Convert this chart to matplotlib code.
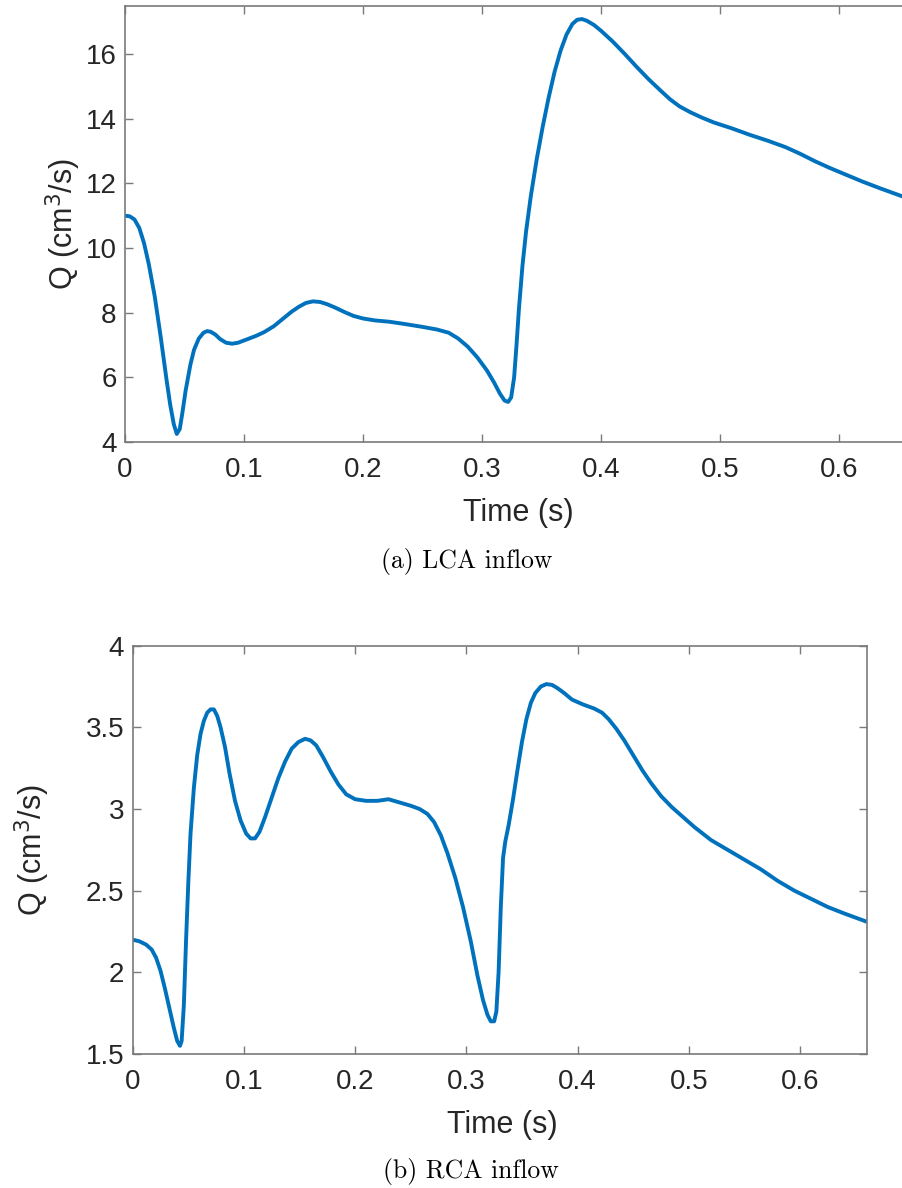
import matplotlib
matplotlib.use('Agg')
import matplotlib.pyplot as plt

# === LCA inflow ===
lca_t = [0.000, 0.004, 0.008, 0.012, 0.016, 0.020, 0.025, 0.030, 0.035, 0.038,
         0.041, 0.0435, 0.046, 0.048, 0.051, 0.055, 0.058, 0.062, 0.066, 0.069,
         0.072, 0.076, 0.080, 0.085, 0.090, 0.095, 0.100, 0.110, 0.117, 0.125,
         0.133, 0.140, 0.146, 0.152, 0.158, 0.164, 0.170, 0.177, 0.185, 0.192,
         0.200, 0.210, 0.222, 0.235, 0.250, 0.262, 0.272, 0.280, 0.288, 0.296,
         0.304, 0.310, 0.315, 0.319, 0.322, 0.3245, 0.327, 0.329, 0.331, 0.334,
         0.337, 0.341, 0.346, 0.351, 0.356, 0.361, 0.366, 0.371, 0.376, 0.380,
         0.384, 0.388, 0.394, 0.400, 0.410, 0.420, 0.430, 0.440, 0.450, 0.458,
         0.466, 0.475, 0.485, 0.495, 0.510, 0.525, 0.540, 0.555, 0.567, 0.580,
         0.592, 0.605, 0.620, 0.635, 0.653]
lca_q = [11.00, 10.98, 10.88, 10.62, 10.15, 9.50, 8.50, 7.25, 5.90, 5.15,
         4.55, 4.25, 4.40, 4.85, 5.60, 6.40, 6.85, 7.20, 7.38, 7.43,
         7.41, 7.32, 7.18, 7.07, 7.04, 7.07, 7.14, 7.28, 7.40, 7.58,
         7.82, 8.03, 8.18, 8.30, 8.35, 8.33, 8.26, 8.15, 8.01, 7.90,
         7.82, 7.76, 7.72, 7.65, 7.56, 7.48, 7.38, 7.20, 6.95, 6.62,
         6.22, 5.85, 5.50, 5.28, 5.24, 5.38, 6.00, 7.00, 8.10, 9.45,
         10.50, 11.60, 12.75, 13.75, 14.65, 15.45, 16.10, 16.60, 16.93, 17.06,
         17.08, 17.03, 16.90, 16.72, 16.38, 16.00, 15.60, 15.22, 14.87, 14.60,
         14.38, 14.20, 14.03, 13.88, 13.70, 13.50, 13.32, 13.12, 12.92, 12.68,
         12.48, 12.28, 12.05, 11.84, 11.60]

# === RCA inflow ===
rca_t = [0.000, 0.006, 0.012, 0.017, 0.021, 0.025, 0.029, 0.033, 0.037, 0.040,
         0.0425, 0.044, 0.046, 0.048, 0.050, 0.052, 0.055, 0.058, 0.061, 0.064,
         0.067, 0.070, 0.073, 0.076, 0.079, 0.083, 0.087, 0.092, 0.097, 0.102,
         0.106, 0.110, 0.114, 0.119, 0.125, 0.131, 0.137, 0.143, 0.149, 0.155,
         0.160, 0.165, 0.171, 0.178, 0.185, 0.192, 0.200, 0.210, 0.220, 0.230,
         0.240, 0.250, 0.258, 0.265, 0.271, 0.277, 0.283, 0.290, 0.297, 0.304,
         0.310, 0.315, 0.319, 0.322, 0.325, 0.327, 0.329, 0.331, 0.333, 0.335,
         0.338, 0.342, 0.346, 0.350, 0.354, 0.358, 0.362, 0.367, 0.372, 0.377,
         0.382, 0.388, 0.395, 0.405, 0.415, 0.422, 0.428, 0.435, 0.442, 0.450,
         0.458, 0.466, 0.475, 0.485, 0.495, 0.505, 0.520, 0.535, 0.550, 0.565,
         0.580, 0.595, 0.610, 0.625, 0.640, 0.660]
rca_q = [2.20, 2.19, 2.17, 2.14, 2.09, 2.01, 1.90, 1.78, 1.66, 1.58,
         1.55, 1.58, 1.80, 2.20, 2.55, 2.85, 3.13, 3.33, 3.46, 3.54,
         3.59, 3.61, 3.61, 3.57, 3.50, 3.38, 3.22, 3.05, 2.93, 2.85,
         2.82, 2.82, 2.86, 2.95, 3.07, 3.19, 3.29, 3.37, 3.41, 3.43,
         3.42, 3.39, 3.32, 3.23, 3.15, 3.09, 3.06, 3.05, 3.05, 3.06,
         3.04, 3.02, 3.00, 2.97, 2.92, 2.84, 2.73, 2.58, 2.40, 2.19,
         1.98, 1.83, 1.74, 1.70, 1.70, 1.76, 2.00, 2.40, 2.70, 2.80,
         2.90, 3.06, 3.24, 3.41, 3.55, 3.65, 3.71, 3.75, 3.765, 3.76,
         3.74, 3.71, 3.67, 3.64, 3.615, 3.59, 3.55, 3.49, 3.42, 3.33,
         3.24, 3.16, 3.08, 3.01, 2.95, 2.89, 2.81, 2.75, 2.69, 2.63,
         2.56, 2.50, 2.45, 2.40, 2.36, 2.31]

lca_yticks = [4, 6, 8, 10, 12, 14, 16]
rca_yticks = [1.5, 2, 2.5, 3, 3.5, 4]
rca_yticklabels = ['1.5', '2', '2.5', '3', '3.5', '4']
xticks = [0, 0.1, 0.2, 0.3, 0.4, 0.5, 0.6]
xticklabels = ['0', '0.1', '0.2', '0.3', '0.4', '0.5', '0.6']

plt.rcParams['font.family'] = ['Liberation Sans', 'DejaVu Sans']

W, H = 902, 1188
fig = plt.figure(figsize=(W / 100, H / 100), dpi=100)

line_color = '#0072BD'
txt_color = '#262626'
ax_color = '#7a7a7a'


def style(ax):
    for s in ax.spines.values():
        s.set_color(ax_color)
        s.set_linewidth(1.2)
    ax.tick_params(direction='in', length=6, width=1.0, color=ax_color,
                   labelcolor=txt_color, labelsize=20, top=True, right=True)
    ax.tick_params(axis='x', pad=11)
    ax.tick_params(axis='y', pad=6)


# (a) LCA -- axes run past the right edge like the cropped original
ax1 = fig.add_axes([125 / W, 1 - 442 / H, 785.4 / W, 436.5 / H])
ax1.plot(lca_t, lca_q, color=line_color, lw=2.8, solid_joinstyle='round')
ax1.set_xlim(0, 0.66)
ax1.set_ylim(4, 17.5)
ax1.set_xticks(xticks)
ax1.set_xticklabels(xticklabels)
ax1.set_yticks(lca_yticks)
style(ax1)

# (b) RCA
ax2 = fig.add_axes([132.7 / W, 1 - 1054 / H, 734 / W, 408.3 / H])
ax2.plot(rca_t, rca_q, color=line_color, lw=2.8, solid_joinstyle='round')
ax2.set_xlim(0, 0.66)
ax2.set_ylim(1.5, 4)
ax2.set_xticks(xticks)
ax2.set_xticklabels(xticklabels)
ax2.set_yticks(rca_yticks)
ax2.set_yticklabels(rca_yticklabels)
style(ax2)

# axis labels
fig.text(518 / W, 1 - 521.5 / H, 'Time (s)', fontsize=22, color=txt_color,
         ha='center', va='baseline')
fig.text(502 / W, 1 - 1133 / H, 'Time (s)', fontsize=22, color=txt_color,
         ha='center', va='baseline')
fig.text(63 / W, 1 - 224 / H, 'Q (cm$^3$/s)', fontsize=22, color=txt_color,
         rotation=90, ha='center', va='center')
fig.text(32 / W, 1 - 850 / H, 'Q (cm$^3$/s)', fontsize=22, color=txt_color,
         rotation=90, ha='center', va='center')

# captions
fig.text(467 / W, 1 - 568 / H, '(a) LCA inflow', family='cmr10', fontsize=18.5,
         color='black', ha='center', va='baseline')
fig.text(471 / W, 1 - 1178 / H, '(b) RCA inflow', family='cmr10', fontsize=18.5,
         color='black', ha='center', va='baseline')

fig.savefig('out.png', dpi=100)
